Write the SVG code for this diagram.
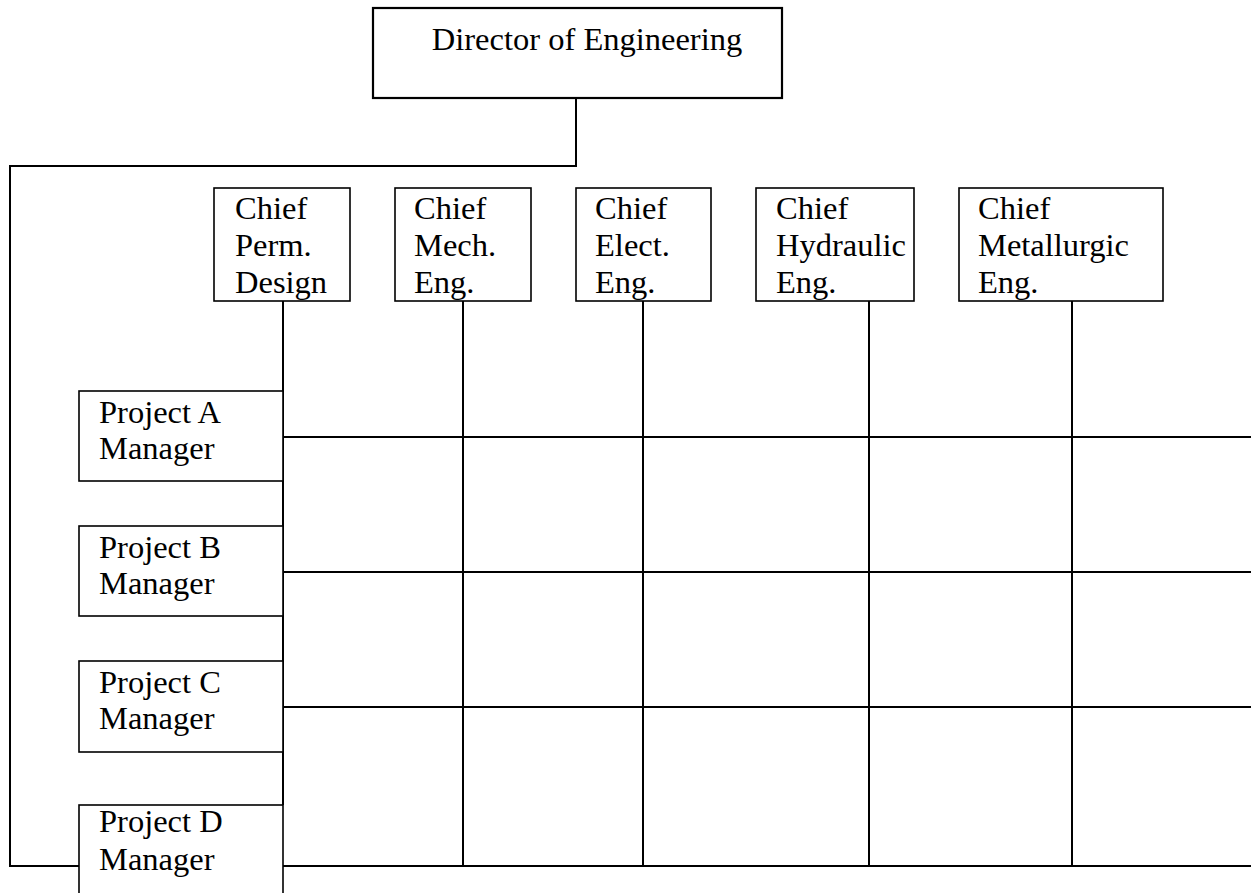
<svg xmlns="http://www.w3.org/2000/svg" width="1251" height="893" viewBox="0 0 1251 893">
  <style>
    .box { fill: #fff; stroke: #000; stroke-width: 1.6; }
    .top { fill: #fff; stroke: #000; stroke-width: 2.2; }
    .lbl { font-family: "Liberation Serif", "Times New Roman", serif; font-size: 32.5px; fill: #000; }
    .wire { fill: none; stroke: #000; stroke-width: 2; }
  </style>
  <rect width="1251" height="893" fill="#fff"/>

  <!-- reporting lines and matrix grid -->
  <g id="connectors">
    <polyline class="wire" points="576,98 576,166 10,166 10,866 79,866"/>
    <line class="wire" x1="283" y1="301" x2="283" y2="805"/>
    <line class="wire" x1="463" y1="301" x2="463" y2="866"/>
    <line class="wire" x1="643" y1="301" x2="643" y2="866"/>
    <line class="wire" x1="869" y1="301" x2="869" y2="866"/>
    <line class="wire" x1="1072" y1="301" x2="1072" y2="866"/>
    <line class="wire" x1="283" y1="437" x2="1251" y2="437"/>
    <line class="wire" x1="283" y1="572" x2="1251" y2="572"/>
    <line class="wire" x1="283" y1="707" x2="1251" y2="707"/>
    <line class="wire" x1="283" y1="866" x2="1251" y2="866"/>
  </g>

  <g id="director">
    <rect class="top" x="373" y="8" width="409" height="90"/>
    <text class="lbl" x="587" y="50" text-anchor="middle">Director of Engineering</text>
  </g>

  <g id="chief-perm-design">
    <rect class="box" x="214" y="188" width="136" height="113"/>
    <text class="lbl" x="235" y="219">Chief</text>
    <text class="lbl" x="235" y="256">Perm.</text>
    <text class="lbl" x="235" y="293">Design</text>
  </g>
  <g id="chief-mech-eng">
    <rect class="box" x="395" y="188" width="136" height="113"/>
    <text class="lbl" x="414" y="219">Chief</text>
    <text class="lbl" x="414" y="256">Mech.</text>
    <text class="lbl" x="414" y="293">Eng.</text>
  </g>
  <g id="chief-elect-eng">
    <rect class="box" x="576" y="188" width="135" height="113"/>
    <text class="lbl" x="595" y="219">Chief</text>
    <text class="lbl" x="595" y="256">Elect.</text>
    <text class="lbl" x="595" y="293">Eng.</text>
  </g>
  <g id="chief-hydraulic-eng">
    <rect class="box" x="756" y="188" width="158" height="113"/>
    <text class="lbl" x="776" y="219">Chief</text>
    <text class="lbl" x="776" y="256">Hydraulic</text>
    <text class="lbl" x="776" y="293">Eng.</text>
  </g>
  <g id="chief-metallurgic-eng">
    <rect class="box" x="959" y="188" width="204" height="113"/>
    <text class="lbl" x="978" y="219">Chief</text>
    <text class="lbl" x="978" y="256">Metallurgic</text>
    <text class="lbl" x="978" y="293">Eng.</text>
  </g>

  <g id="project-a">
    <rect class="box" x="79" y="391" width="204" height="90"/>
    <text class="lbl" x="99" y="423">Project A</text>
    <text class="lbl" x="99" y="459">Manager</text>
  </g>
  <g id="project-b">
    <rect class="box" x="79" y="526" width="204" height="90"/>
    <text class="lbl" x="99" y="558">Project B</text>
    <text class="lbl" x="99" y="594">Manager</text>
  </g>
  <g id="project-c">
    <rect class="box" x="79" y="661" width="204" height="91"/>
    <text class="lbl" x="99" y="693">Project C</text>
    <text class="lbl" x="99" y="729">Manager</text>
  </g>
  <g id="project-d">
    <rect class="box" x="79" y="805" width="204" height="100"/>
    <text class="lbl" x="99" y="832">Project D</text>
    <text class="lbl" x="99" y="870">Manager</text>
  </g>
</svg>
